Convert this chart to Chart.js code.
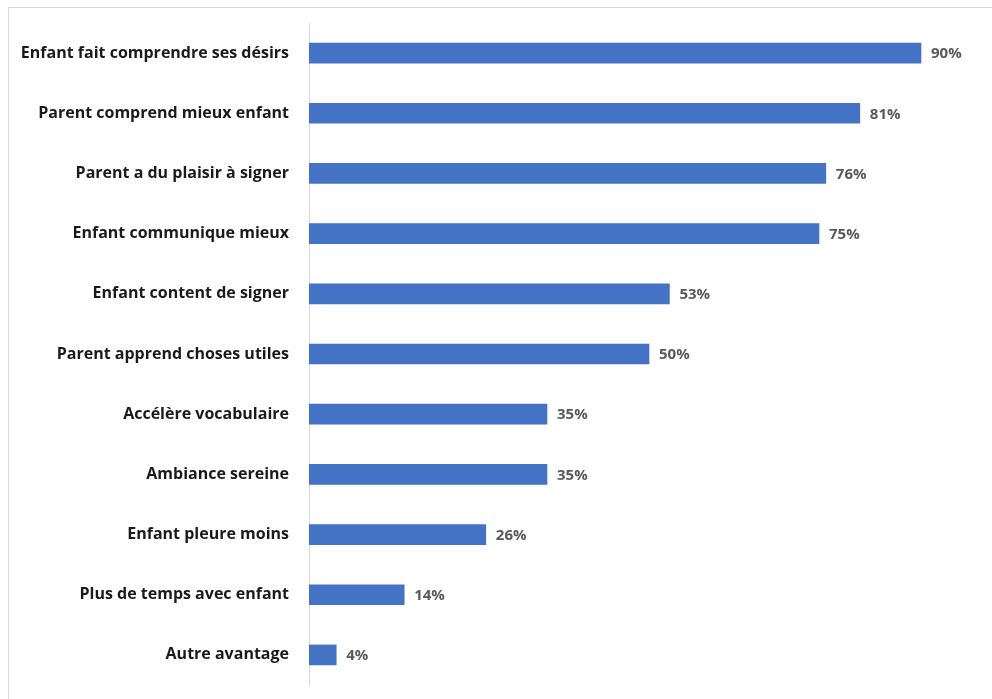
<!DOCTYPE html>
<html>
<head>
<meta charset="utf-8">
<script src="https://cdn.jsdelivr.net/npm/chart.js@4"></script>
<style>
  html, body { margin: 0; padding: 0; background: #fff; }
  body { width: 992px; height: 699px; overflow: hidden; position: relative; }
  .frame {
    position: absolute; left: 8px; top: 7px; width: 990px; height: 700px;
    border-top: 1px solid #d9d9d9; border-left: 1px solid #d9d9d9;
  }
  #wrap { position: absolute; left: 0; top: 0; width: 992px; height: 699px; }
</style>
</head>
<body>
<div class="frame"></div>
<div id="wrap"><canvas id="chart"></canvas></div>
<script>
// categories and values (%)
const categories = [
  'Enfant fait comprendre ses désirs',
  'Parent comprend mieux enfant',
  'Parent a du plaisir à signer',
  'Enfant communique mieux',
  'Enfant content de signer',
  'Parent apprend choses utiles',
  'Accélère vocabulaire',
  'Ambiance sereine',
  'Enfant pleure moins',
  'Plus de temps avec enfant',
  'Autre avantage'
];
const percents = [90, 81, 76, 75, 53, 50, 35, 35, 26, 14, 4];

const FONT = '"Open Sans", "Liberation Sans", sans-serif';

// draws the "90%" style labels at the end of each bar
const valueLabels = {
  id: 'valueLabels',
  afterDatasetsDraw(chart) {
    const ctx = chart.ctx;
    const meta = chart.getDatasetMeta(0);
    ctx.save();
    ctx.font = 'bold 15px ' + FONT;
    ctx.fillStyle = '#595959';
    ctx.textAlign = 'left';
    ctx.textBaseline = 'middle';
    meta.data.forEach((bar, i) => {
      ctx.fillText(percents[i] + '%', bar.x + 10, bar.y + 1);
    });
    ctx.restore();
  }
};

new Chart(document.getElementById('chart'), {
  type: 'bar',
  data: {
    labels: categories,
    datasets: [{
      data: percents,
      backgroundColor: '#4472c4',
      barThickness: 20
    }]
  },
  options: {
    indexAxis: 'y',
    responsive: true,
    maintainAspectRatio: false,
    animation: false,
    layout: { padding: { top: 23, bottom: 14, left: 0, right: 3 } },
    plugins: {
      legend: { display: false },
      tooltip: { enabled: false }
    },
    scales: {
      x: {
        display: false,
        min: 0,
        max: 100
      },
      y: {
        afterFit(scale) {
          scale.width = 309;
          scale.paddingTop = 0;
          scale.paddingBottom = 0;
        },
        grid: { display: false, drawTicks: false },
        border: { display: true, color: '#d9d9d9', width: 1 },
        ticks: {
          padding: 20,
          color: '#1a1a1a',
          font: { family: FONT, size: 16, weight: 'bold' }
        }
      }
    }
  },
  plugins: [valueLabels]
});
</script>
</body>
</html>
